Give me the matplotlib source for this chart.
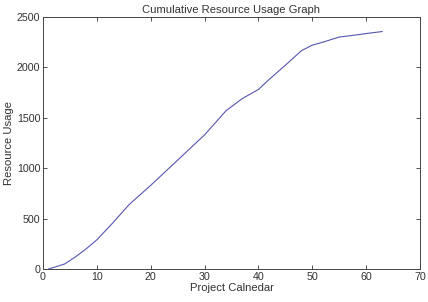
import matplotlib
matplotlib.use('Agg')
import matplotlib.pyplot as plt

# project day vs cumulative resource usage
days = [1, 4, 6, 8, 10, 13, 16, 20, 25, 30, 34, 37, 40, 42, 45, 48, 50, 52, 55, 58, 60, 63]
usage = [0, 50, 120, 200, 290, 460, 640, 830, 1080, 1330, 1570, 1690, 1780, 1880,
         2020, 2165, 2220, 2250, 2300, 2320, 2335, 2355]

xticks = list(range(0, 80, 10))
yticks = list(range(0, 3000, 500))

plt.rcParams['font.family'] = ['Liberation Sans', 'DejaVu Sans']

fig = plt.figure(figsize=(4.28, 3.02), dpi=100)
ax = fig.add_axes([0.1005, 0.109, 0.8805, 0.835])
ax.plot(days, usage, color='#5555b0', linewidth=0.8)

ax.set_xlim(0, 70)
ax.set_ylim(0, 2500)
ax.set_xticks(xticks)
ax.set_yticks(yticks)
ax.tick_params(direction='in', top=True, right=True, labelsize=7.7,
               length=3, width=0.6, colors='#333333', pad=2)
for s in ax.spines.values():
    s.set_linewidth(0.7)
    s.set_color('#444444')

ax.set_title('Cumulative Resource Usage Graph', fontsize=8.1, pad=3, color='#333333')
ax.set_xlabel('Project Calnedar', fontsize=8.1, labelpad=1, color='#333333')
ax.set_ylabel('Resource Usage', fontsize=8.1, labelpad=2, color='#333333')

fig.savefig('out.png', dpi=100)
